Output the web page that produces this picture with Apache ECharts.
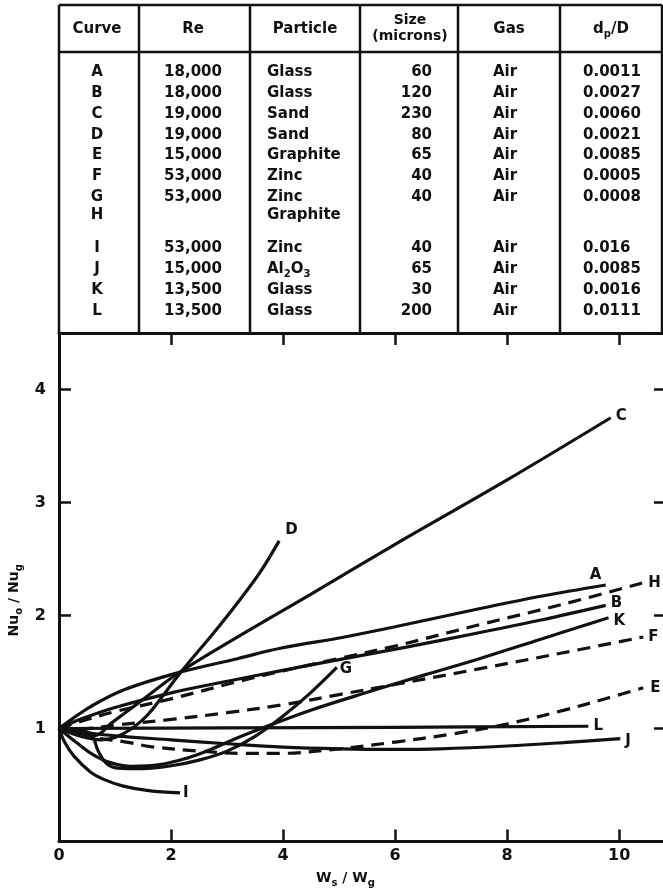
<!DOCTYPE html>
<html>
<head>
<meta charset="utf-8">
<script src="https://cdn.jsdelivr.net/npm/echarts@6/dist/echarts.min.js"></script>
<style>
html,body{margin:0;padding:0;background:#fff;}
#chart{width:663px;height:889px;}
</style>
</head>
<body>
<div id="chart"></div>
<script>
// table contents
var curveIds = ['A','B','C','D','E','F','G','H','I','J','K','L'];
var reynolds = ['18,000','18,000','19,000','19,000','15,000','53,000','53,000','','53,000','15,000','13,500','13,500'];
var particles = ['Glass','Glass','Sand','Sand','Graphite','Zinc','Zinc','Graphite','Zinc','Al{s|2}O{s|3}','Glass','Glass'];
var sizes = ['60','120','230','80','65','40','40','','40','65','30','200'];
var gases = ['Air','Air','Air','Air','Air','Air','Air','','Air','Air','Air','Air'];
var ratios = ['0.0011','0.0027','0.0060','0.0021','0.0085','0.0005','0.0008','','0.016','0.0085','0.0016','0.0111'];

// curves, [Ws/Wg, Nu/Nu]
var curveA = [[0,1],[0.25,1.09],[0.55,1.19],[1.15,1.34],[2.1,1.49],[3.2,1.62],[3.95,1.71],[5.1,1.81],[6,1.9],[7.5,2.06],[8.6,2.17],[9.76,2.27]];
var curveB = [[0,1],[0.43,1.09],[1.03,1.19],[2.04,1.32],[3.23,1.44],[3.95,1.51],[5,1.61],[6.2,1.72],[7.52,1.85],[8.6,1.96],[9.76,2.09]];
var curveC = [[0,1],[0.35,0.95],[0.65,0.94],[0.94,1.05],[1.4,1.22],[2.16,1.5],[3.41,1.875],[4.5,2.19],[6,2.63],[8,3.2],[9.85,3.75]];
var curveD = [[0,1],[0.4,0.93],[0.75,0.9],[1,0.92],[1.3,1],[1.6,1.13],[2.16,1.49],[2.8,1.87],[3.23,2.14],[3.6,2.39],[3.93,2.66]];
var curveE = [[0,1],[0.5,0.93],[1.2,0.88],[1.63,0.84],[2.5,0.8],[3.3,0.78],[3.95,0.78],[5,0.82],[6,0.88],[7,0.95],[8,1.04],[9,1.16],[9.8,1.27],[10.43,1.36]];
var curveF = [[0,1],[0.5,1],[1,1.03],[2,1.08],[3,1.14],[4,1.21],[5,1.3],[6,1.39],[7.52,1.53],[9,1.67],[10.43,1.81]];
var curveG = [[0,1],[0.55,0.96],[0.7,0.8],[0.85,0.69],[1.05,0.65],[1.5,0.645],[2,0.67],[2.5,0.72],[3,0.8],[3.5,0.93],[4,1.11],[4.5,1.32],[4.96,1.54]];
var curveH = [[0,1],[0.5,1.08],[1,1.15],[1.98,1.26],[3.23,1.42],[4,1.51],[5,1.62],[6,1.73],[7.52,1.92],[9,2.1],[10.43,2.29]];
var curveI = [[0,1],[0.1,0.88],[0.26,0.76],[0.55,0.62],[0.8,0.55],[1.15,0.49],[1.6,0.45],[2.16,0.43]];
var curveJ = [[0,1],[0.55,0.96],[1,0.935],[2,0.9],[3,0.865],[4,0.835],[5,0.82],[6,0.815],[6.8,0.82],[8,0.845],[9,0.875],[10.02,0.91]];
var curveK = [[0,1],[0.3,0.88],[0.6,0.77],[0.9,0.7],[1.3,0.665],[1.8,0.68],[2.3,0.74],[2.64,0.8],[3.2,0.92],[3.77,1.03],[4.48,1.16],[5.5,1.32],[6.5,1.47],[7.52,1.62],[8.6,1.79],[9.81,1.98]];
var curveL = [[0,1],[3,1.005],[6,1.01],[9.45,1.02]];
var dashedIds = ['E','F','H'];

var xTicks = [0,2,4,6,8,10];
var yTicks = [1,2,3,4];

var ink = '#111';
var font = 'DejaVu Sans';
var curveData = {A:curveA,B:curveB,C:curveC,D:curveD,E:curveE,F:curveF,G:curveG,H:curveH,I:curveI,J:curveJ,K:curveK,L:curveL};
//标签偏移
var labelOffset = {A:[-21,-10],B:[0,-2],C:[0,-2],D:[1,-11],E:[2,0],F:[0,0],G:[-2,2],H:[0,0],I:[-2,0],J:[0,2],K:[0,3],L:[0,0]};

var subRich = {s:{fontSize:10,fontFamily:font,fontWeight:'bold',color:ink,fill:ink,verticalAlign:'bottom'}};

// table drawn as graphic
var tLeft = 59, tRight = 662, tTop = 5, tHead = 52, tBottom = 333;
var colLines = [139, 250, 360, 458, 560];
var graphics = [];
function addLine(x1,y1,x2,y2){
	graphics.push({type:'line',shape:{x1:x1,y1:y1,x2:x2,y2:y2},style:{stroke:ink,lineWidth:2.5},silent:true});
}
function addText(txt,x,y,align,size){
	graphics.push({type:'text',x:x,y:y,silent:true,style:{
		text:txt,fill:ink,fontSize:size||15,fontFamily:font,fontWeight:'bold',
		align:align,verticalAlign:'middle',lineHeight:20,rich:subRich
	}});
}
addLine(tLeft,tTop,tRight,tTop);
addLine(tLeft,tHead,tRight,tHead);
addLine(tLeft,tTop,tLeft,tBottom);
addLine(tRight,tTop,tRight,tBottom);
for(var c=0;c<colLines.length;c++){
	addLine(colLines[c],tTop,colLines[c],tBottom);
}
addText('Curve',97,29,'center');
addText('Re',193,29,'center');
addText('Particle',305,29,'center');
addText('Size',410,20,'center',14);
addText('(microns)',410,36,'center',14);
addText('Gas',509,29,'center');
addText('d{s|p}/D',611,29,'center');

var rowY = [];
var yy = 72;
for(var r=0;r<curveIds.length;r++){
	rowY.push(yy);
	if(r==6){ yy += 18; }
	else if(r==7){ yy += 33; }
	else { yy += 20.9; }
}
for(var i=0;i<curveIds.length;i++){
	addText(curveIds[i],97,rowY[i],'center');
	addText(reynolds[i],193,rowY[i],'center');
	addText(particles[i],267,rowY[i],'left');
	addText(sizes[i],432,rowY[i],'right');
	addText(gases[i],505,rowY[i],'center');
	addText(ratios[i],583,rowY[i],'left');
}

var series = [];
for(var k=0;k<curveIds.length;k++){
	var id = curveIds[k];
	var dashed = dashedIds.indexOf(id) >= 0;
	series.push({
		name:id,
		type:'line',
		xAxisIndex:0,
		yAxisIndex:0,
		data:curveData[id],
		smooth:0.35,
		symbol:'none',
		silent:true,
		lineStyle:{color:ink,width:3.2,type:dashed ? [13,8] : 'solid',cap:'butt'},
		endLabel:{show:true,formatter:'{a}',color:ink,fontSize:15,fontFamily:font,fontWeight:'bold',distance:5,offset:labelOffset[id]},
		z:3
	});
}

function axisBase(extra){
	var o = {
		type:'value',
		splitLine:{show:false},
		axisLine:{show:true,onZero:false,lineStyle:{color:ink,width:3}},
		axisTick:{show:true,inside:true,length:12,lineStyle:{color:ink,width:2.5}}
	};
	for(var key in extra){ o[key] = extra[key]; }
	return o;
}

var chart = echarts.init(document.getElementById('chart'),null,{renderer:'canvas'});
chart.setOption({
	backgroundColor:'#fff',
	animation:false,
	grid:{left:59,top:333,width:605,height:508.5,containLabel:false,outerBoundsMode:'none'},
	xAxis:[
		axisBase({
			position:'bottom',min:0,max:10.8,interval:2,
			axisLabel:{show:true,margin:6,color:ink,fontSize:16,fontFamily:font,fontWeight:'bold',
				formatter:function(v){ return xTicks.indexOf(v) >= 0 ? String(v) : ''; }},
			name:'W{s|s} / W{s|g}',nameLocation:'middle',nameGap:27,
			nameTextStyle:{color:ink,fontSize:14,fontFamily:font,fontWeight:'bold',lineHeight:20,padding:[0,32,0,0],rich:subRich}
		}),
		axisBase({position:'top',min:0,max:10.8,interval:2,axisLabel:{show:false}})
	],
	yAxis:[
		axisBase({
			position:'left',min:0,max:4.5,interval:1,
			axisLabel:{show:true,margin:13,color:ink,fontSize:16,fontFamily:font,fontWeight:'bold',
				formatter:function(v){ return yTicks.indexOf(v) >= 0 ? String(v) : ''; }},
			name:'Nu{s|o} / Nu{s|g}',nameLocation:'middle',nameGap:34,nameRotate:90,
			nameTextStyle:{color:ink,fontSize:14,fontFamily:font,fontWeight:'bold',lineHeight:20,padding:[0,26,0,0],rich:subRich}
		}),
		axisBase({position:'right',min:0,max:4.5,interval:1,axisLabel:{show:false},
			axisTick:{show:true,inside:true,length:10,lineStyle:{color:ink,width:2.5}}})
	],
	graphic:graphics,
	series:series
});
</script>
</body>
</html>
